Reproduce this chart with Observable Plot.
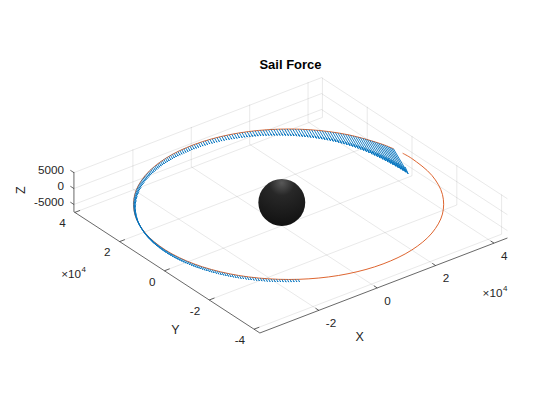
<!DOCTYPE html>
<html>
<head>
<meta charset="utf-8">
<script src="https://cdn.jsdelivr.net/npm/d3@7"></script>
<script src="https://cdn.jsdelivr.net/npm/@observablehq/plot@0.6"></script>
<style>
  html, body { margin: 0; padding: 0; background: #fff; }
  svg { display: block; }
</style>
</head>
<body>
<div id="chart"></div>
<script>
// ---------------- data ----------------
const chartTitle = "Sail Force";
const xLabel = "X", yLabel = "Y", zLabel = "Z";
const xLimits = [-40200, 44600];
const yLimits = [-42600, 40400];
const zLimits = [-7300, 5200];
const xTicks = [-20000, 0, 20000, 40000];
const xTickLabels = ["-2", "0", "2", "4"];
const yTicks = [-40000, -20000, 0, 20000, 40000];
const yTickLabels = ["-4", "-2", "0", "2", "4"];
const zTicks = [-5000, 0, 5000];
const zTickLabels = ["-5000", "0", "5000"];
const exponentBase = "×10";
const exponentPower = "4";

// Earth and orbit (km)
const earthRadius = 6371;
const orbitRadius = 42164;
const orbitCenter = [890, -1880];
const orbitTilt = 740;
const orbitTiltPhase = 52.6;
const orbitAngles = [10, 15, 30, 45, 60, 75, 90, 105, 120, 135, 150, 165, 180,
  195, 210, 225, 240, 255, 270, 285, 300, 315, 330, 345, 360, 365];

// Sail force vectors: one per degree of orbit angle from 10° to 236°,
// displayed arrow length in km
const sailAngleStart = 10;
const sailLength = [
  7900, 7700, 7500, 7300, 7100, 6900, 6700, 6500, 6300, 6100,   // 10-19
  5900, 5700, 5500, 5300, 5100, 4900, 4700, 4520, 4350, 4200,   // 20-29
  4050, 3920, 3800, 3670, 3550, 3450, 3350, 3250, 3150, 3060,   // 30-39
  2980, 2900, 2820, 2750, 2680, 2610, 2540, 2480, 2420, 2360,   // 40-49
  2300, 2250, 2200, 2150, 2100, 2050, 2000, 1960, 1920, 1880,   // 50-59
  1840, 1800, 1770, 1730, 1700, 1670, 1640, 1610, 1580, 1550,   // 60-69
  1520, 1495, 1470, 1445, 1420, 1395, 1370, 1345, 1320, 1310,   // 70-79
  1300, 1285, 1270, 1255, 1240, 1230, 1220, 1210, 1200, 1190,   // 80-89
  1180, 1175, 1170, 1165, 1160, 1155, 1150, 1145, 1140, 1135,   // 90-99
  1130, 1122, 1115, 1108, 1100, 1092, 1085, 1078, 1070, 1062,   // 100-109
  1055, 1048, 1040, 1032, 1025, 1018, 1010, 1003, 996, 990,     // 110-119
  985, 985, 985, 985, 990, 995, 995, 1000, 1000, 1005,          // 120-129
  1010, 1010, 1015, 1020, 1020, 1020, 1025, 1030, 1030, 1035,   // 130-139
  1040, 1040, 1045, 1045, 1050, 1055, 1055, 1060, 1060, 1065,   // 140-149
  1070, 1070, 1075, 1080, 1080, 1080, 1085, 1090, 1090, 1095,   // 150-159
  1100, 1100, 1105, 1105, 1110, 1115, 1115, 1120, 1120, 1125,   // 160-169
  1130, 1130, 1135, 1140, 1140, 1140, 1140, 1140, 1140, 1140,   // 170-179
  1140, 1140, 1135, 1130, 1130, 1125, 1120, 1120, 1115, 1110,   // 180-189
  1105, 1100, 1090, 1085, 1080, 1075, 1070, 1060, 1055, 1050,   // 190-199
  1045, 1040, 1030, 1025, 1020, 1015, 1010, 1000, 995, 990,     // 200-209
  985, 980, 970, 965, 960, 955, 950, 940, 935, 930,             // 210-219
  925, 920, 910, 900, 895, 885, 875, 865, 860, 850,             // 220-229
  840, 835, 830, 820, 815, 810, 805                             // 230-236
];
const sailDirection = [0.191, -0.578, -0.793];

// ---------------- view (MATLAB default 3-D view, axis equal) ----------------
const W = 560, H = 420;
const viewAz = -37.5, viewEl = 30;
const pxPerKm = 0.00368;
const originPx = [281.3, 202];
const rad = Math.PI / 180;
const az = viewAz * rad, el = viewEl * rad;

function project([x, y, z]) {
  return {
    u: x * Math.cos(az) + y * Math.sin(az),
    v: -x * Math.sin(az) * Math.sin(el) + y * Math.cos(az) * Math.sin(el) + z * Math.cos(el)
  };
}
function seg(a, b) {
  const A = project(a), B = project(b);
  return {u1: A.u, v1: A.v, u2: B.u, v2: B.v};
}
function orbitPoint(deg) {
  const t = deg * rad;
  return [orbitCenter[0] + orbitRadius * Math.cos(t),
          orbitCenter[1] + orbitRadius * Math.sin(t),
          -orbitTilt * Math.cos(t - orbitTiltPhase * rad)];
}

const uDomain = [-originPx[0] / pxPerKm, (W - originPx[0]) / pxPerKm];
const vDomain = [-(H - originPx[1]) / pxPerKm, originPx[1] / pxPerKm];

const [x0, x1] = xLimits, [y0, y1] = yLimits, [z0, z1] = zLimits;

// grid on floor and back walls
const grid = [];
for (const xt of xTicks) { grid.push(seg([xt, y0, z0], [xt, y1, z0])); grid.push(seg([xt, y1, z0], [xt, y1, z1])); }
for (const yt of yTicks) { grid.push(seg([x0, yt, z0], [x1, yt, z0])); grid.push(seg([x1, yt, z0], [x1, yt, z1])); }
for (const zt of zTicks) { grid.push(seg([x0, y1, zt], [x1, y1, zt])); grid.push(seg([x1, y0, zt], [x1, y1, zt])); }

// axis lines and tick marks
const axisSegs = [seg([x0, y0, z0], [x1, y0, z0]), seg([x0, y0, z0], [x0, y1, z0]), seg([x0, y1, z0], [x0, y1, z1])];
for (const xt of xTicks) axisSegs.push(seg([xt, y0, z0], [xt, y0 + 1500, z0]));
for (const yt of yTicks) axisSegs.push(seg([x0, yt, z0], [x0 + 1800, yt, z0]));
for (const zt of zTicks) axisSegs.push(seg([x0, y1, zt], [x0, y1 + 1600, zt]));

const xTickText = xTicks.map((t, i) => ({...project([t, y0, z0]), label: xTickLabels[i]}));
const yTickText = yTicks.map((t, i) => ({...project([x0, t, z0]), label: yTickLabels[i]}));
const zTickText = zTicks.map((t, i) => ({...project([x0, y1, t]), label: zTickLabels[i]}));

const xLabelPos = [{...project([(x0 + x1) / 2, y0, z0]), label: xLabel}];
const yLabelPos = [{...project([x0, (y0 + y1) / 2, z0]), label: yLabel}];
const zLabelPos = [{...project([x0, y1, (z0 + z1) / 2]), label: zLabel}];
const xExpPos = [project([x1, y0, z0])];
const yExpPos = [project([x0, y1, z0])];

// orbit
const orbit = orbitAngles.map(a => project(orbitPoint(a)));

// quiver (shaft + two head barbs, MATLAB style)
const headAlpha = 0.25, headBeta = 0.3;
const quiver = [];
sailLength.forEach((L, i) => {
  const b = orbitPoint(sailAngleStart + i);
  const [du, dv, dw] = sailDirection.map(c => c * L);
  const tip = [b[0] + du, b[1] + dv, b[2] + dw];
  quiver.push(seg(b, tip));
  quiver.push(seg([tip[0] - headAlpha * (du + headBeta * dv), tip[1] - headAlpha * (dv - headBeta * du), tip[2] - headAlpha * dw], tip));
  quiver.push(seg([tip[0] - headAlpha * (du - headBeta * dv), tip[1] - headAlpha * (dv + headBeta * du), tip[2] - headAlpha * dw], tip));
});

const earth = [project([0, 0, 0])];
const earthPx = earthRadius * W / (uDomain[1] - uDomain[0]);

const ink = "#262626";
const fs = 11.7;

const svg = Plot.plot({
  width: W, height: H, margin: 0,
  x: {domain: uDomain, range: [0, W], axis: null},
  y: {domain: vDomain, range: [H, 0], axis: null},
  style: {fontFamily: "'Liberation Sans', Arial, Helvetica, sans-serif", background: "#fff", color: ink},
  marks: [
    Plot.link(grid, {x1: "u1", y1: "v1", x2: "u2", y2: "v2", stroke: ink, strokeOpacity: 0.15, strokeWidth: 0.7}),
    Plot.link(axisSegs, {x1: "u1", y1: "v1", x2: "u2", y2: "v2", stroke: ink, strokeWidth: 0.7}),
    Plot.line(orbit, {x: "u", y: "v", stroke: "#D95319", strokeWidth: 0.9, curve: "catmull-rom"}),
    Plot.link(quiver, {x1: "u1", y1: "v1", x2: "u2", y2: "v2", stroke: "#0072BD", strokeWidth: 0.9}),
    Plot.dot(earth, {x: "u", y: "v", r: earthPx, fill: "url(#earthShade)", stroke: null}),
    Plot.text(xTickText, {x: "u", y: "v", text: "label", textAnchor: "start", dx: 7, dy: 13, fontSize: fs, fill: ink}),
    Plot.text(yTickText, {x: "u", y: "v", text: "label", textAnchor: "end", dx: -9, dy: 11, fontSize: fs, fill: ink}),
    Plot.text(zTickText, {x: "u", y: "v", text: "label", textAnchor: "end", dx: -10, dy: -2, fontSize: fs, fill: ink}),
    Plot.text(xLabelPos, {x: "u", y: "v", text: "label", dx: -24, dy: 51.5, fontSize: 12.5, fill: ink}),
    Plot.text(yLabelPos, {x: "u", y: "v", text: "label", dx: 8.6, dy: 58, fontSize: 12.5, fill: ink}),
    Plot.text(zLabelPos, {x: "u", y: "v", text: "label", dx: -53.4, dy: -1.8, rotate: -90, fontSize: 12.5, fill: ink}),
    Plot.text(xExpPos, {x: "u", y: "v", text: () => exponentBase, textAnchor: "end", dx: -5, dy: 55.4, fontSize: fs, fill: ink}),
    Plot.text(xExpPos, {x: "u", y: "v", text: () => exponentPower, textAnchor: "start", dx: -4.5, dy: 50, fontSize: 8, fill: ink}),
    Plot.text(yExpPos, {x: "u", y: "v", text: () => exponentBase, textAnchor: "end", dx: 7.1, dy: 62.8, fontSize: fs, fill: ink}),
    Plot.text(yExpPos, {x: "u", y: "v", text: () => exponentPower, textAnchor: "start", dx: 7.6, dy: 57.4, fontSize: 8, fill: ink}),
    Plot.text([chartTitle], {frameAnchor: "top", lineAnchor: "middle", dx: 10, dy: 64, fontSize: 13, fontWeight: "bold", fill: "#000"})
  ]
});

const defs = document.createElementNS("http://www.w3.org/2000/svg", "defs");
defs.innerHTML = `<radialGradient id="earthShade" cx="0.5" cy="0.08" r="0.9">
  <stop offset="0" stop-color="#585858"/>
  <stop offset="0.3" stop-color="#282828"/>
  <stop offset="0.75" stop-color="#1a1a1a"/>
  <stop offset="1" stop-color="#121212"/>
</radialGradient>`;
svg.insertBefore(defs, svg.firstChild);
document.getElementById("chart").appendChild(svg);
</script>
</body>
</html>
